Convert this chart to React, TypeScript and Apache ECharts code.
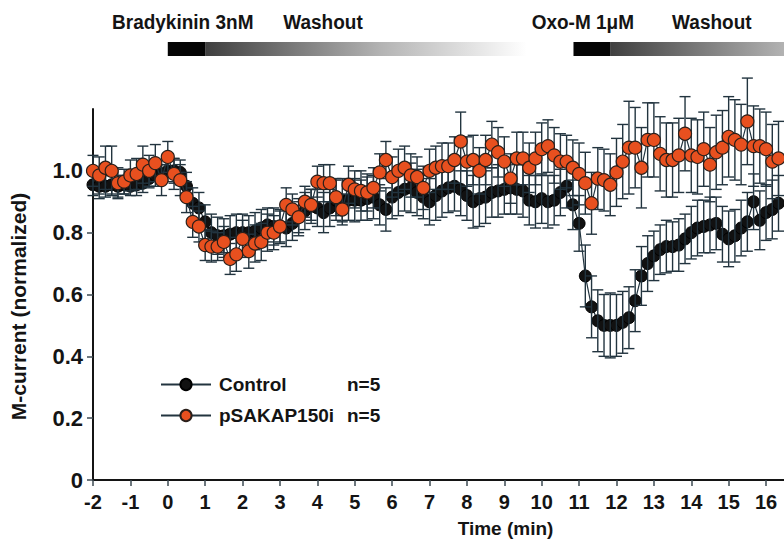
import React, { useEffect, useRef } from "react";
import * as echarts from "echarts";

// Sampling: one point every 10 s starting at -2 min
const START_MIN = -2;
const SAMPLE_MIN = 1 / 6;

const CONTROL = [
  0.955, 0.95, 0.95, 0.955, 0.95, 0.955,
  0.95, 0.955, 0.96, 0.975, 0.985, 0.99,
  1.0, 1.0, 0.995, 0.95, 0.895, 0.88,
  0.835, 0.8, 0.79, 0.79, 0.795, 0.8,
  0.8, 0.8, 0.805, 0.815, 0.825, 0.82,
  0.82, 0.815, 0.83, 0.85, 0.87, 0.885,
  0.88, 0.865, 0.88, 0.905, 0.905, 0.905,
  0.905, 0.905, 0.91, 0.915, 0.89, 0.875,
  0.915, 0.93, 0.94, 0.945, 0.93, 0.915,
  0.9, 0.92, 0.935, 0.945, 0.95, 0.94,
  0.92, 0.9, 0.91, 0.915, 0.93, 0.935,
  0.94, 0.945, 0.94, 0.935, 0.905, 0.9,
  0.91, 0.9, 0.905, 0.93, 0.95, 0.89,
  0.83, 0.66, 0.56, 0.515, 0.5, 0.5,
  0.5, 0.51, 0.525, 0.58, 0.66, 0.7,
  0.725, 0.745, 0.755, 0.755, 0.76, 0.78,
  0.8, 0.815, 0.82, 0.825, 0.83, 0.795,
  0.78, 0.79, 0.815, 0.835, 0.9, 0.84,
  0.865, 0.875, 0.895,
];

const CONTROL_SEM = [
  0.035, 0.04, 0.035, 0.03, 0.035, 0.03,
  0.03, 0.035, 0.03, 0.03, 0.035, 0.03,
  0.035, 0.04, 0.04, 0.045, 0.05, 0.05,
  0.055, 0.06, 0.06, 0.055, 0.06, 0.06,
  0.06, 0.055, 0.06, 0.06, 0.055, 0.06,
  0.055, 0.06, 0.055, 0.06, 0.06, 0.055,
  0.06, 0.065, 0.06, 0.065, 0.07, 0.065,
  0.07, 0.065, 0.07, 0.07, 0.065, 0.07,
  0.07, 0.075, 0.07, 0.08, 0.075, 0.07,
  0.075, 0.08, 0.085, 0.08, 0.08, 0.085,
  0.08, 0.085, 0.09, 0.085, 0.08, 0.085,
  0.08, 0.085, 0.08, 0.085, 0.08, 0.085,
  0.08, 0.085, 0.08, 0.075, 0.07, 0.08,
  0.09, 0.1, 0.1, 0.1, 0.1, 0.105,
  0.1, 0.1, 0.1, 0.1, 0.095, 0.09,
  0.08, 0.08, 0.085, 0.08, 0.085, 0.08,
  0.085, 0.09, 0.085, 0.09, 0.085, 0.09,
  0.09, 0.085, 0.09, 0.095, 0.09, 0.095,
  0.09, 0.095, 0.09,
];

const SAKAP = [
  1.0, 0.985, 1.01, 1.0, 0.96, 0.965,
  0.985, 0.99, 1.02, 1.0, 1.025, 0.97,
  1.045, 0.99, 0.97, 0.915, 0.835, 0.82,
  0.76, 0.755, 0.755, 0.77, 0.715, 0.73,
  0.78, 0.74, 0.765, 0.77, 0.8, 0.8,
  0.82, 0.89, 0.875, 0.85, 0.9, 0.89,
  0.965, 0.96, 0.96, 0.915, 0.875, 0.955,
  0.94, 0.935, 0.93, 0.945, 0.995, 1.035,
  0.98, 1.0, 1.01, 0.985, 0.98, 0.945,
  1.0, 1.01, 1.015, 1.015, 1.035, 1.095,
  1.03, 1.035, 1.0, 1.035, 1.085, 1.06,
  1.03, 0.975, 1.04, 1.04, 1.01, 1.04,
  1.07, 1.08, 1.05, 1.03, 1.03, 1.01,
  0.99, 0.96, 0.895, 0.975, 0.97, 0.955,
  0.995, 1.03, 1.075, 1.075, 1.01, 1.1,
  1.1, 1.055, 1.035, 1.035, 1.05, 1.12,
  1.05, 1.045, 1.07, 1.02, 1.06, 1.075,
  1.11, 1.1, 1.085, 1.16, 1.08, 1.08,
  1.07, 1.03, 1.04,
];

const SAKAP_SEM = [
  0.05, 0.06, 0.07, 0.08, 0.05, 0.04,
  0.05, 0.05, 0.06, 0.05, 0.06, 0.05,
  0.05, 0.05, 0.05, 0.05, 0.05, 0.05,
  0.05, 0.05, 0.045, 0.05, 0.05, 0.055,
  0.06, 0.055, 0.06, 0.06, 0.06, 0.055,
  0.05, 0.055, 0.05, 0.05, 0.05, 0.05,
  0.05, 0.06, 0.06, 0.06, 0.05, 0.06,
  0.06, 0.065, 0.06, 0.065, 0.06, 0.06,
  0.065, 0.07, 0.07, 0.07, 0.065, 0.07,
  0.07, 0.07, 0.075, 0.075, 0.075, 0.095,
  0.08, 0.08, 0.075, 0.08, 0.075, 0.08,
  0.08, 0.08, 0.085, 0.085, 0.08, 0.085,
  0.085, 0.085, 0.09, 0.09, 0.085, 0.09,
  0.1, 0.1, 0.1, 0.1, 0.1, 0.1,
  0.11, 0.12, 0.15, 0.13, 0.13, 0.12,
  0.12, 0.12, 0.12, 0.12, 0.12, 0.12,
  0.12, 0.12, 0.12, 0.12, 0.12, 0.12,
  0.13, 0.13, 0.13, 0.14, 0.13, 0.12,
  0.12, 0.12, 0.12,
];

const SERIES_NAMES = ["Control", "pSAKAP150i"];
const SERIES_N = [5, 5];
const Y_TICKS = [0, 0.2, 0.4, 0.6, 0.8, 1.0];

// Drug application annotations (minutes)
const DRUG_LABELS = ["Bradykinin 3nM", "Oxo-M 1\u03bcM"];
const DRUG_LABEL_CENTER = [0.4, 11.1];
const DRUG_START = [0, 10.85];
const DRUG_END = [1, 11.83];
const WASH_LABEL = "Washout";
const WASH_LABEL_CENTER = [4.15, 14.55];
const WASH_END = [9.6, 20.4];

const FONT = "'Liberation Sans', Arial, Helvetica, sans-serif";
const INK = "#141414";
const BAR_INK = "#22343f";

function timeAt(i: number) {
  return START_MIN + i * SAMPLE_MIN;
}

export default function App() {
  const ref = useRef<HTMLDivElement>(null);

  useEffect(() => {
    if (!ref.current) return;
    const chart = echarts.init(ref.current, undefined, { renderer: "svg" });

    const controlData = CONTROL.map((v, i) => [timeAt(i), v]);
    const sakapData = SAKAP.map((v, i) => [timeAt(i), v]);
    const controlErr = CONTROL.map((v, i) => [timeAt(i), v - CONTROL_SEM[i], v + CONTROL_SEM[i]]);
    const sakapErr = SAKAP.map((v, i) => [timeAt(i), v - SAKAP_SEM[i], v + SAKAP_SEM[i]]);

    const errRender = (params: any, api: any) => {
      const x = api.value(0);
      const lo = api.coord([x, api.value(1)]);
      const hi = api.coord([x, api.value(2)]);
      const w = 5.5;
      const style = { stroke: BAR_INK, lineWidth: 1.4 };
      return {
        type: "group",
        children: [
          { type: "line", shape: { x1: hi[0], y1: hi[1], x2: lo[0], y2: lo[1] }, style },
          { type: "line", shape: { x1: hi[0] - w, y1: hi[1], x2: hi[0] + w, y2: hi[1] }, style },
          { type: "line", shape: { x1: lo[0] - w, y1: lo[1], x2: lo[0] + w, y2: lo[1] }, style },
        ],
      };
    };

    const bold = { fontFamily: FONT, fontWeight: "bold" as const, color: INK };

    chart.setOption({
      animation: false,
      backgroundColor: "#ffffff",
      grid: { left: 88, right: 0, top: 109, bottom: 62, containLabel: false },
      legend: {
        orient: "vertical",
        left: 155,
        top: 370,
        itemGap: 12,
        itemWidth: 50,
        itemHeight: 14,
        data: SERIES_NAMES,
        formatter: (name: string) => {
          const idx = SERIES_NAMES.indexOf(name);
          return `{a|${name}}{b|n=${SERIES_N[idx]}}`;
        },
        textStyle: {
          ...bold,
          fontSize: 19,
          rich: {
            a: { ...bold, fontSize: 19, width: 128, padding: [0, 0, 0, 3] },
            b: { ...bold, fontSize: 19 },
          },
        },
      },
      xAxis: {
        type: "value",
        min: -2,
        max: 16.48,
        interval: 1,
        name: "Time (min)",
        nameLocation: "middle",
        nameGap: 39,
        nameTextStyle: { ...bold, fontSize: 19, padding: [0, 0, 0, 134] },
        axisLine: { onZero: false, lineStyle: { color: INK, width: 2 } },
        axisTick: { inside: false, length: 6, lineStyle: { color: "#3c4a52", width: 1.5 } },
        axisLabel: {
          ...bold,
          fontSize: 20,
          margin: 12,
          showMaxLabel: false,
          formatter: (v: number) => String(v),
        },
        splitLine: { show: false },
      },
      yAxis: {
        type: "value",
        min: 0,
        max: 1.2,
        interval: 0.2,
        name: "M-current (normalized)",
        nameLocation: "middle",
        nameGap: 64,
        nameRotate: 90,
        nameTextStyle: { ...bold, fontSize: 21, padding: [0, 24, 0, 0] },
        axisLine: { show: true, onZero: false, lineStyle: { color: INK, width: 2 } },
        axisTick: {
          show: true,
          length: 6,
          customValues: Y_TICKS,
          lineStyle: { color: "#3c4a52", width: 1.5 },
        },
        axisLabel: {
          ...bold,
          fontSize: 22,
          margin: 10,
          customValues: Y_TICKS,
          formatter: (v: number) => (v === 0 ? "0" : v.toFixed(1)),
        },
        splitLine: { show: false },
      },
      series: [
        {
          name: SERIES_NAMES[0],
          type: "line",
          data: controlData,
          z: 2,
          symbol: "circle",
          symbolSize: 12,
          lineStyle: { color: BAR_INK, width: 1.2 },
          itemStyle: { color: "#111111", borderColor: "#000000", borderWidth: 1 },
        },
        {
          name: "Control SEM",
          type: "custom",
          data: controlErr,
          z: 3,
          renderItem: errRender,
          encode: { x: 0, y: [1, 2] },
        },
        {
          name: "pSAKAP150i SEM",
          type: "custom",
          data: sakapErr,
          z: 3,
          renderItem: errRender,
          encode: { x: 0, y: [1, 2] },
        },
        {
          name: SERIES_NAMES[1],
          type: "line",
          data: sakapData,
          z: 4,
          symbol: "circle",
          symbolSize: 13,
          lineStyle: { color: BAR_INK, width: 1.2 },
          itemStyle: { color: "#e8501f", borderColor: "#2a1f1a", borderWidth: 1.2 },
        },
      ],
    });

    const px = (t: number) => chart.convertToPixel({ xAxisIndex: 0 }, t) as number;
    const graphics: any[] = [];
    DRUG_LABELS.forEach((lab, i) => {
      const s = px(DRUG_START[i]);
      const e = px(DRUG_END[i]);
      const w = px(WASH_END[i]);
      graphics.push({
        type: "rect",
        shape: { x: e, y: 42, width: w - e, height: 14 },
        style: {
          fill: {
            type: "linear",
            x: 0, y: 0, x2: 1, y2: 0,
            colorStops: [
              { offset: 0, color: "#3f3f3f" },
              { offset: 0.55, color: "#b4b4b4" },
              { offset: 1, color: "#ffffff" },
            ],
          },
        },
        z: 1,
      });
      graphics.push({
        type: "rect",
        shape: { x: s, y: 42, width: e - s, height: 14 },
        style: { fill: "#050505" },
        z: 2,
      });
      graphics.push({
        type: "text",
        x: px(DRUG_LABEL_CENTER[i]),
        y: 22,
        scaleY: 1.1,
        style: {
          text: lab,
          fill: INK,
          font: `bold 19px ${FONT}`,
          textAlign: "center",
          textVerticalAlign: "middle",
        },
        z: 3,
      });
      graphics.push({
        type: "text",
        x: px(WASH_LABEL_CENTER[i]),
        y: 22,
        scaleY: 1.1,
        style: {
          text: WASH_LABEL,
          fill: INK,
          font: `bold 19px ${FONT}`,
          textAlign: "center",
          textVerticalAlign: "middle",
        },
        z: 3,
      });
    });
    chart.setOption({ graphic: graphics });

    return () => chart.dispose();
  }, []);

  return (
    <div
      ref={ref}
      style={{ position: "fixed", left: 0, top: 0, width: 784, height: 543, background: "#fff" }}
    />
  );
}
